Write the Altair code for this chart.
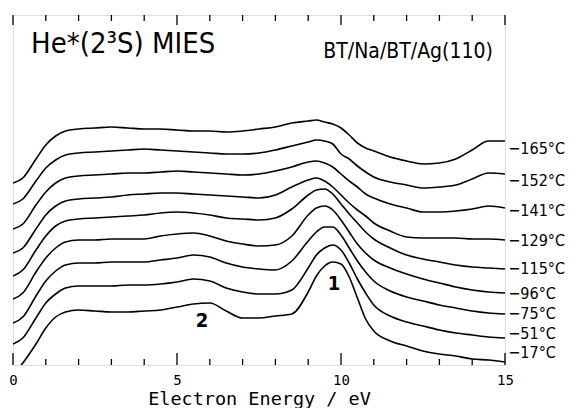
import altair as alt
import pandas as pd

# Electron energy grid (eV)
energy = [0, 0.3, 0.7, 1.0, 1.3, 1.6, 2.0, 2.5, 3, 3.5, 4, 4.5, 5, 5.5, 6, 6.5, 7, 7.5,
          8, 8.5, 9, 9.25, 9.5, 9.75, 10, 10.25, 10.5, 10.75, 11, 11.5, 12, 12.5, 13,
          13.5, 14, 14.5, 15]

temps = ["\u2212165\u00b0C", "\u2212152\u00b0C", "\u2212141\u00b0C", "\u2212129\u00b0C",
         "\u2212115\u00b0C", "\u221296\u00b0C", "\u221275\u00b0C", "\u221251\u00b0C",
         "\u221217\u00b0C"]

# MIES intensity (arb. units, curves vertically offset)
s_165 = [182, 187, 206, 220, 229, 234, 236, 237, 238, 237, 236, 236, 235, 234, 234, 233, 234, 236,
         238, 242, 244, 245, 243, 241, 237, 230, 222, 217, 214, 208, 204, 201, 202, 206, 215, 224, 224]
s_152 = [161, 166, 184, 197, 205, 210, 212, 213, 214, 215, 216, 215, 214, 213, 212, 211, 211, 212,
         215, 219, 223, 225, 224, 221, 211, 206, 199, 193, 188, 183, 180, 177, 178, 180, 186, 192, 191]
s_141 = [136, 141, 160, 173, 182, 187, 189, 190, 191, 192, 192, 193, 194, 193, 192, 191, 190, 191,
         194, 198, 203, 204, 202, 198, 191, 184, 178, 171, 167, 161, 157, 153, 153, 154, 156, 159, 157]
s_129 = [112, 117, 136, 150, 159, 164, 166, 167, 168, 170, 171, 172, 172, 171, 170, 169, 168, 167,
         170, 178, 185, 187, 184, 178, 170, 162, 155, 149, 142, 134, 128, 127, 127, 127, 126, 126, 125]
s_115 = [89, 95, 115, 129, 139, 144, 146, 147, 148, 149, 150, 152, 153, 152, 150, 147, 146, 145,
         147, 156, 170, 175, 176, 171, 161, 151, 142, 133, 126, 117, 110, 106, 103, 100, 98, 97, 96]
s_96 = [66, 72, 93, 107, 117, 123, 125, 125, 126, 126, 126, 129, 131, 132, 129, 124, 121, 119,
        120, 129, 150, 157, 159, 155, 145, 133, 121, 112, 105, 97, 91, 86, 82, 78, 75, 73, 72]
s_75 = [42, 48, 69, 84, 94, 100, 102, 102, 103, 103, 103, 105, 107, 110, 108, 102, 98, 96,
        95, 104, 124, 133, 138, 138, 130, 117, 104, 93, 84, 74, 68, 64, 60, 57, 54, 52, 51]
s_51 = [21, 27, 47, 62, 71, 77, 79, 79, 79, 80, 80, 81, 83, 86, 84, 77, 73, 71,
        71, 75, 97, 110, 117, 120, 115, 102, 86, 72, 60, 49, 43, 39, 35, 32, 30, 28, 27]
s_17 = [-10, 2, 21, 37, 48, 53, 55, 54, 53, 53, 54, 55, 58, 61, 62, 54, 47, 47,
        49, 51, 73, 89, 99, 103, 101, 88, 67, 46, 34, 24, 19, 14, 11, 9, 6, 5, 3]
series = [s_165, s_152, s_141, s_129, s_115, s_96, s_75, s_51, s_17]

# label heights for the temperature tags (same units)
label_level = [216, 184, 154, 124, 96, 71, 51, 31, 12]

minor_ticks = list(range(0, 16))
major_ticks = [0, 5, 10, 15]

rows = []
for t, s in zip(temps, series):
    for e, v in zip(energy, s):
        rows.append({"T": t, "E": e, "I": v})
df = pd.DataFrame(rows)

lab = pd.DataFrame({"T": temps, "E": [15.1] * len(temps), "I": label_level})

tick_rows = []
for t in minor_ticks:
    big = t in major_ticks
    tick_rows.append({"E": t, "I": 0, "I2": 12 if big else 6})
    tick_rows.append({"E": t, "I": 350, "I2": 340 if big else 344})
ticks = pd.DataFrame(tick_rows)

xscale = alt.Scale(domain=[0, 15], nice=False, zero=False)
yscale = alt.Scale(domain=[0, 350], nice=False, zero=False)
xaxis = alt.Axis(values=major_ticks, ticks=False, domain=False, grid=False, labelFlush=False,
                 labelFont="DejaVu Sans Mono", labelFontSize=14, labelPadding=8, labelColor="black",
                 title="Electron Energy / eV", titleFont="DejaVu Sans Mono", titleFontSize=18.5,
                 titleFontWeight="normal", titlePadding=2, titleColor="black")

X = alt.X("E:Q", scale=xscale, axis=xaxis)
Y = alt.Y("I:Q", scale=yscale, axis=None)

NARROW = "'DejaVu Sans Condensed', 'DejaVu Sans', sans-serif"

lines = alt.Chart(df).mark_line(color="black", strokeWidth=1.6, interpolate="monotone", clip=True).encode(
    x=X, y=Y, detail="T:N")

tick_layer = alt.Chart(ticks).mark_rule(color="black", strokeWidth=1.3).encode(
    x=X, y=Y, y2="I2:Q")

labels = alt.Chart(lab).mark_text(align="left", baseline="middle", font=NARROW, fontSize=16,
                                  color="black").encode(x=X, y=Y, text="T:N")

ann = pd.DataFrame({"E": [9.79, 5.76], "I": [81, 44], "txt": ["1", "2"]})
ann_layer = alt.Chart(ann).mark_text(font=NARROW, fontSize=20, fontWeight="bold", color="black").encode(
    x=X, y=Y, text="txt:N")

title1 = alt.Chart(pd.DataFrame({"E": [0.55], "I": [321], "txt": ["He*(2\u00b3S)  MIES"]})).mark_text(
    align="left", baseline="middle", font=NARROW, fontSize=29, color="black").encode(x=X, y=Y, text="txt:N")
title2 = alt.Chart(pd.DataFrame({"E": [14.63], "I": [313], "txt": ["BT/Na/BT/Ag(110)"]})).mark_text(
    align="right", baseline="middle", font=NARROW, fontSize=21, color="black").encode(x=X, y=Y, text="txt:N")

chart = alt.layer(lines, tick_layer, labels, ann_layer, title1, title2).properties(
    width=492, height=350,
    padding={"left": 0, "top": 6, "right": 0, "bottom": 0},
).configure_view(stroke="black", strokeWidth=1.6).configure(background="white")

chart.save("out.html", embed_options={"renderer": "svg", "actions": False})
